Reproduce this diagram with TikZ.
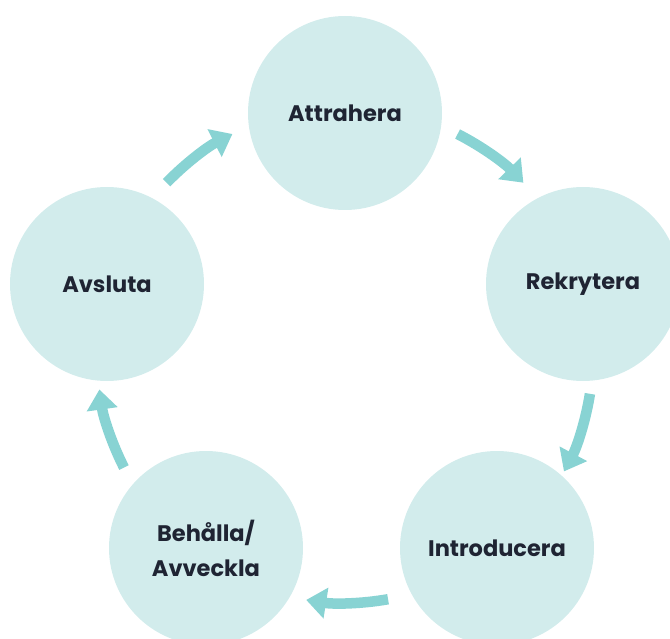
\documentclass[tikz,border=0pt]{standalone}
\usepackage{fontspec}
\setmainfont{Poppins}
\usetikzlibrary{arrows.meta}
\definecolor{circfill}{HTML}{D2ECEC}
\definecolor{arrowcol}{HTML}{88D3D3}
\definecolor{txt}{HTML}{1F2433}
\tikzset{
  x=1pt, y=-1pt,
  stage/.style={circle, fill=circfill, minimum size=194pt, inner sep=0pt, text=txt,
    font=\fontsize{22.5}{35}\selectfont\bfseries, align=center},
  cyc/.style={draw=arrowcol, line width=10.5pt, line cap=butt,
    -{Triangle[width=30pt,length=20pt]}}
}
\begin{document}
\begin{tikzpicture}
\useasboundingbox (0,0) rectangle (670,639);
\coordinate (ctr) at (345,355);
\node[stage] (att) at (345,113) {Attrahera};
\node[stage] (rek) at (583,284) {Rekrytera};
\node[stage] (int) at (497,548) {Introducera};
\node[stage] (beh) at (206,548) {Behålla/\\Avveckla};
\node[stage] (avs) at (107,284) {Avsluta};
\draw[cyc] (ctr) ++(-136:248) arc[start angle=-136, end angle=-117, radius=248];
\draw[cyc] (ctr) ++(-63:248) arc[start angle=-63, end angle=-44, radius=248];
\draw[cyc] (ctr) ++(9:248) arc[start angle=9, end angle=28, radius=248];
\draw[cyc] (ctr) ++(80:248) arc[start angle=80, end angle=99, radius=248];
\draw[cyc] (ctr) ++(-207:248) arc[start angle=-207, end angle=-188, radius=248];
\end{tikzpicture}
\end{document}
